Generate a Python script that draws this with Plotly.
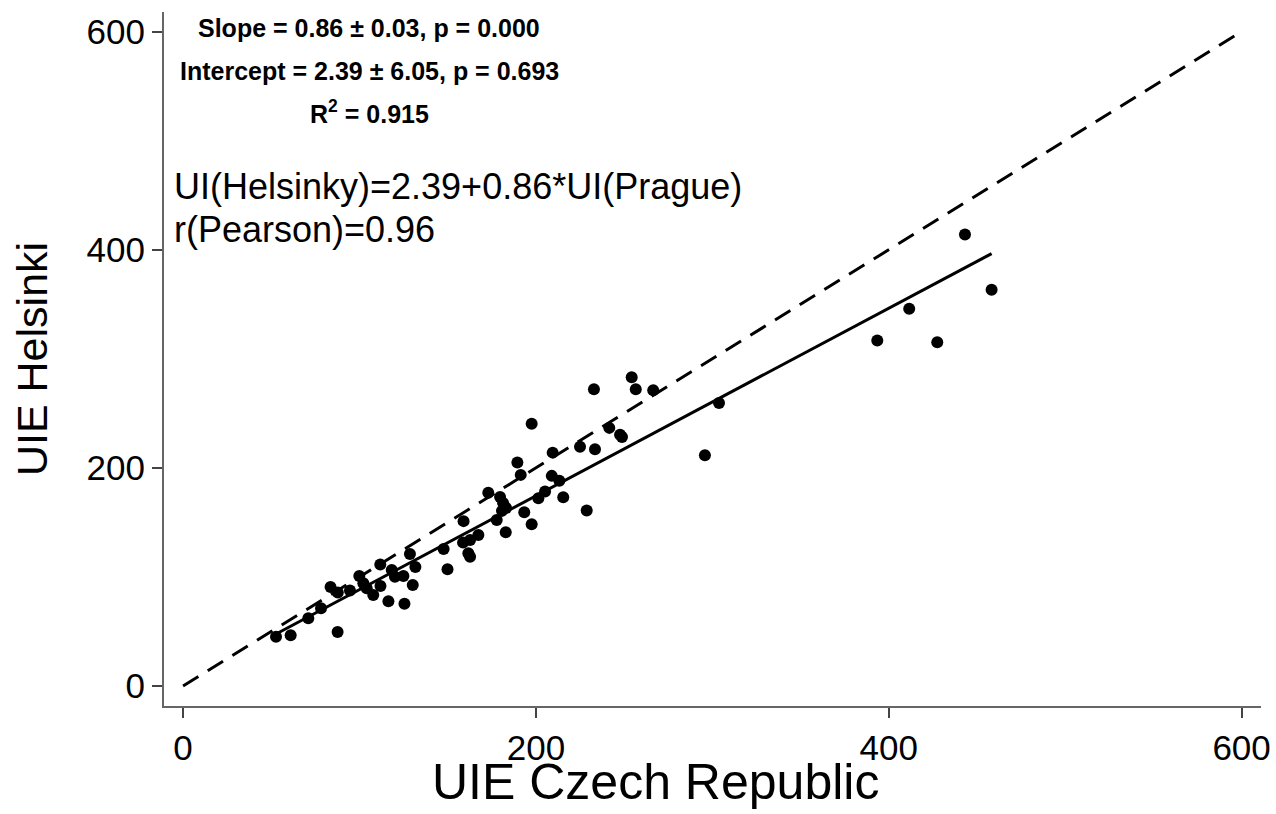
import plotly.graph_objects as go

# Data (UIE Czech Republic vs UIE Helsinki)
uie_czech = [52.7, 61.0, 71.0, 78.2, 83.6, 87.7, 87.6, 94.6, 99.9, 102.2,
             104.1, 107.8, 111.8, 111.9, 116.4, 118.3, 120.1, 124.9, 125.5, 130.2,
             128.6, 131.7, 147.7, 149.9, 159.0, 158.7, 162.7, 161.7, 162.7, 167.4,
             173.0, 177.8, 179.7, 181.4, 183.1, 180.8, 182.9, 193.4, 197.6, 201.4,
             205.2, 189.5, 191.4, 197.6, 209.5, 209.0, 213.3, 215.5, 228.8, 225.0,
             233.5, 232.9, 241.6, 247.7, 248.8, 254.3, 256.6, 266.5, 295.8, 303.8,
             393.5, 411.6, 427.5, 443.2, 458.3]
uie_helsinki = [45.2, 46.5, 62.1, 71.3, 90.8, 85.8, 49.5, 87.6, 100.9, 94.2,
                89.6, 83.5, 111.5, 91.7, 77.8, 106.4, 100.3, 100.9, 75.5, 92.7,
                121.1, 109.2, 125.7, 107.1, 151.2, 131.5, 133.9, 121.7, 118.6, 138.5,
                177.3, 152.3, 173.4, 167.9, 163.3, 160.6, 141.0, 159.4, 148.3, 172.2,
                178.3, 204.9, 193.6, 240.4, 214.0, 192.7, 188.3, 173.1, 161.0, 219.5,
                217.2, 272.2, 236.7, 230.3, 228.4, 283.2, 272.2, 271.3, 211.7, 259.6,
                316.8, 345.9, 315.3, 414.0, 363.3]

slope = 0.86
intercept = 2.39
fit_x = [min(uie_czech), max(uie_czech)]
fit_y = [intercept + slope * v for v in fit_x]
identity = [0, 600]
tick_vals = [0, 200, 400, 600]

FONT = "Liberation Sans, Arial, sans-serif"

fig = go.Figure()
fig.add_trace(go.Scatter(x=identity, y=identity, mode="lines",
                         line=dict(color="black", width=3, dash="18px,11px"),
                         showlegend=False, hoverinfo="skip"))
fig.add_trace(go.Scatter(x=fit_x, y=fit_y, mode="lines",
                         line=dict(color="black", width=3),
                         showlegend=False, hoverinfo="skip"))
fig.add_trace(go.Scatter(x=uie_czech, y=uie_helsinki, mode="markers",
                         marker=dict(color="black", size=12),
                         showlegend=False))

annots = [
    dict(x=105.4, y=603.7, text="<b>Slope = 0.86 ± 0.03, p = 0.000</b>", size=25, xanchor="center"),
    dict(x=105.4, y=564.2, text="<b>Intercept = 2.39 ± 6.05, p = 0.693</b>", size=25, xanchor="center"),
    dict(x=105.4, y=526.6, text="<b>R<sup>2</sup> = 0.915</b>", size=25, xanchor="center"),
    dict(x=-6.5, y=457.8, text="UI(Helsinky)=2.39+0.86*UI(Prague)", size=36, xanchor="left"),
    dict(x=-6.5, y=418.3, text="r(Pearson)=0.96", size=36, xanchor="left"),
]
for a in annots:
    fig.add_annotation(x=a["x"], y=a["y"], xref="x", yref="y", text=a["text"],
                       showarrow=False, xanchor=a["xanchor"], yanchor="middle",
                       font=dict(family=FONT, size=a["size"], color="black"))

# x-axis title (placed as in the reference, slightly left of the plot centre)
fig.add_annotation(x=0.448, y=-0.11, xref="paper", yref="paper",
                   text="UIE Czech Republic", showarrow=False,
                   xanchor="center", yanchor="middle",
                   font=dict(family=FONT, size=50, color="black"))

fig.update_layout(
    width=1276, height=814,
    margin=dict(l=164, r=15, t=12, b=108),
    paper_bgcolor="white", plot_bgcolor="white",
    font=dict(family=FONT, color="black"),
)
fig.update_xaxes(range=[-10.8, 611], tickvals=tick_vals, showgrid=False, zeroline=False,
                 automargin=False,
                 showline=True, linecolor="#666", linewidth=2,
                 ticks="outside", ticklen=10, tickwidth=1.5, tickcolor="#444",
                 tickfont=dict(size=35, family=FONT))
fig.update_yaxes(range=[-18.3, 618], tickvals=tick_vals, showgrid=False, zeroline=False,
                 showline=True, linecolor="#666", linewidth=2,
                 ticks="outside", ticklen=10, tickwidth=1.5, tickcolor="#444",
                 tickfont=dict(size=35, family=FONT),
                 title=dict(text="UIE Helsinki", font=dict(size=43, family=FONT), standoff=26))

fig.write_html("out.html", config={"displayModeBar": False},
               post_script="document.body.style.margin='0';document.body.style.overflow='hidden';")
